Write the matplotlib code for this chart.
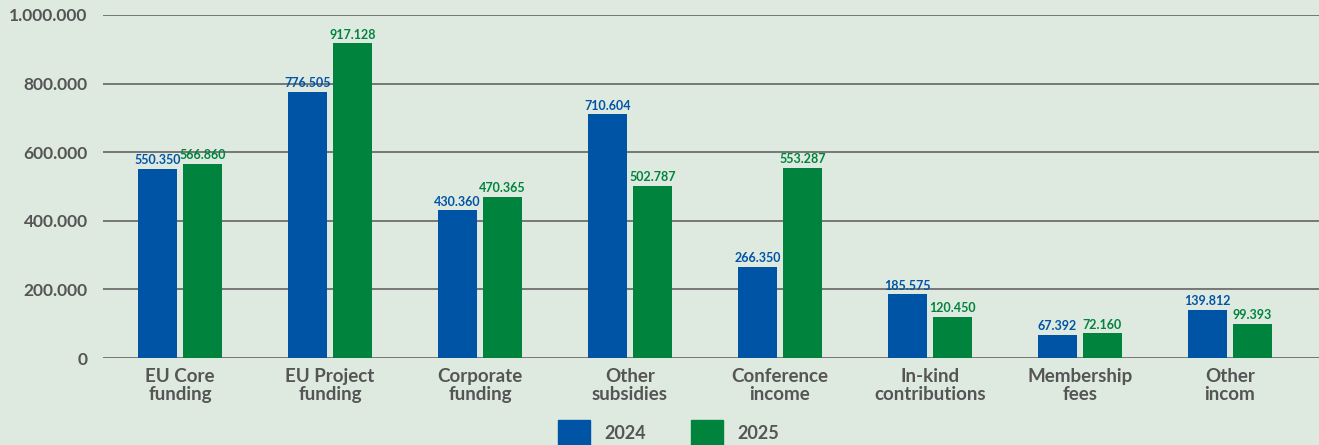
import numpy as np
import matplotlib.pyplot as plt
from matplotlib.ticker import FuncFormatter
from matplotlib.patches import Patch

categories = ["EU Core\nfunding", "EU Project\nfunding", "Corporate\nfunding", "Other\nsubsidies",
              "Conference\nincome", "In-kind\ncontributions", "Membership\nfees", "Other\nincom"]
values_2024 = [550350, 776505, 430360, 710604, 266350, 185575, 67392, 139812]
values_2025 = [566860, 917128, 470365, 502787, 553287, 120450, 72160, 99393]
series_names = ["2024", "2025"]
y_ticks = [0, 200000, 400000, 600000, 800000, 1000000]

bg = "#deeae0"
blue = "#0054a6"
green = "#00843d"
grey = "#555555"


def dotted(v, pos=None):
    return f"{v:,.0f}".replace(",", ".")


plt.rcParams['font.family'] = ['Lato', 'DejaVu Sans']

fig = plt.figure(figsize=(13.19, 4.45), dpi=100, facecolor=bg)
ax = fig.add_axes([0.0781, 0.1955, 0.9219, 0.7708])
ax.set_facecolor(bg)

x = np.arange(len(categories))
w = 0.255
off = 0.15
b1 = ax.bar(x - off, values_2024, w, color=blue, zorder=3)
b2 = ax.bar(x + off, values_2025, w, color=green, zorder=3)

# etiquetas de valor encima de cada barra
for bars, vals, col in [(b1, values_2024, blue), (b2, values_2025, green)]:
    for r, v in zip(bars, vals):
        ax.text(r.get_x() + r.get_width() / 2, v + 8000, dotted(v), ha='center', va='bottom',
                color=col, fontsize=9, fontweight='bold', zorder=4)

ax.set_xlim(-0.513, 7.594)
ax.set_ylim(0, 1000000)
ax.set_yticks(y_ticks)
ax.yaxis.set_major_formatter(FuncFormatter(dotted))
ax.set_xticks(x)
ax.set_xticklabels(categories, linespacing=1.1)
ax.tick_params(axis='y', length=0, pad=11, labelsize=12.5, labelcolor=grey)
ax.tick_params(axis='x', length=0, pad=7, labelsize=13.5, labelcolor=grey)
for lab in ax.get_yticklabels():
    lab.set_fontweight('bold')
for lab in ax.get_xticklabels():
    lab.set_fontweight('bold')

ax.grid(axis='y', color='#6e6e6e', linewidth=1.3, zorder=1)
for s in ax.spines.values():
    s.set_visible(False)

handles = [Patch(color=blue), Patch(color=green)]
leg = fig.legend(handles, series_names, loc='upper center', bbox_to_anchor=(0.507, 0.072), ncol=2,
                 frameon=False, fontsize=13, handlelength=1.75, handleheight=1.75,
                 columnspacing=2.5, handletextpad=0.8, borderaxespad=0)
for t in leg.get_texts():
    t.set_color(grey)
    t.set_fontweight('bold')

fig.savefig("out.png", dpi=100, facecolor=bg)
